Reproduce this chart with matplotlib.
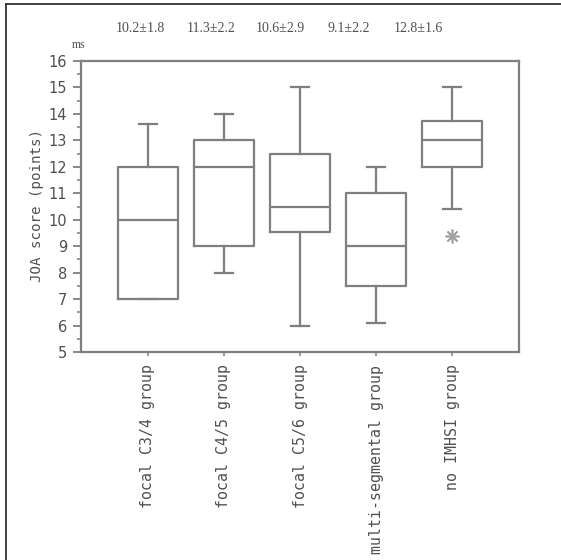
import matplotlib
matplotlib.use("Agg")
import matplotlib.pyplot as plt
from matplotlib.lines import Line2D
from matplotlib.ticker import MultipleLocator

# Group names and JOA score summary statistics (points)
groups = ["focal C3/4 group", "focal C4/5 group", "focal C5/6 group",
          "multi-segmental group", "no IMHSI group"]
medians = [10.0, 12.0, 10.5, 9.0, 13.0]
q1 = [7.0, 9.0, 9.55, 7.5, 12.0]
q3 = [12.0, 13.0, 12.5, 11.0, 13.75]
whisker_low = [7.0, 8.0, 6.0, 6.1, 10.4]
whisker_high = [13.6, 14.0, 15.0, 12.0, 15.0]
outliers = [[], [], [], [], [9.4]]
mean_sd = ["10.2\u00b11.8", "11.3\u00b12.2", "10.6\u00b12.9", "9.1\u00b12.2", "12.8\u00b11.6"]
y_ticks = list(range(5, 17))

LINE = "#7f7f7f"
TEXT = "#505050"
MONO = ["DejaVu Sans Mono"]

fig = plt.figure(figsize=(5.61, 5.60), dpi=100)
ax = fig.add_axes([81 / 561, 1 - 352 / 560, (519 - 81) / 561, (352 - 61) / 560])

stats = []
for i in range(len(groups)):
    stats.append(dict(med=medians[i], q1=q1[i], q3=q3[i],
                      whislo=whisker_low[i], whishi=whisker_high[i],
                      fliers=outliers[i], label=groups[i]))

positions = list(range(1, len(groups) + 1))
ax.bxp(stats, positions=positions, widths=0.78, capwidths=0.23,
       showfliers=True,
       boxprops=dict(color=LINE, linewidth=1.6),
       medianprops=dict(color=LINE, linewidth=1.6),
       whiskerprops=dict(color=LINE, linewidth=1.6),
       capprops=dict(color=LINE, linewidth=1.6),
       flierprops=dict(marker=(8, 2, 0), markersize=10, markeredgecolor="#a0a0a0",
                       markeredgewidth=1.2, markerfacecolor="none"))

ax.set_xlim(0.12, 5.88)
ax.set_ylim(5, 16)
ax.set_yticks(y_ticks)
ax.set_yticklabels([str(v) for v in y_ticks], fontsize=10.5, color=TEXT,
                   family=["DejaVu Sans"])
ax.yaxis.set_minor_locator(MultipleLocator(0.5))
ax.tick_params(axis="y", which="major", length=6, width=1.3, color=LINE, pad=4)
ax.tick_params(axis="y", which="minor", length=3, width=1.1, color=LINE)

ax.set_xticks(positions)
ax.set_xticklabels(groups, rotation=90, fontsize=10.7, color=TEXT, family=MONO,
                   va="top", ha="center")
ax.tick_params(axis="x", length=3, width=1.1, color=LINE, pad=6)

for sp in ax.spines.values():
    sp.set_color(LINE)
    sp.set_linewidth(1.6)

fig.text(37 / 561, 1 - 205 / 560, "JOA score (points)", rotation=90,
         ha="center", va="center", fontsize=10.2, color=TEXT, family=MONO)
fig.text(79 / 561, 1 - 45 / 560, "ms", ha="center", va="center", fontsize=8.5,
         color=TEXT, family=["Liberation Serif"])

for xc, s in zip([140, 211, 280, 349, 418], mean_sd):
    fig.text(xc / 561, 1 - 28 / 560, s, ha="center", va="center", fontsize=10,
             color=TEXT, family=["Liberation Serif"])

# page frame on the left and top edges
fig.add_artist(Line2D([6 / 561, 6 / 561], [0, 1 - 4 / 560], transform=fig.transFigure,
                      color="#333333", linewidth=1.3))
fig.add_artist(Line2D([6 / 561, 1], [1 - 4 / 560, 1 - 4 / 560], transform=fig.transFigure,
                      color="#333333", linewidth=1.3))

fig.savefig("out.png", dpi=100)
